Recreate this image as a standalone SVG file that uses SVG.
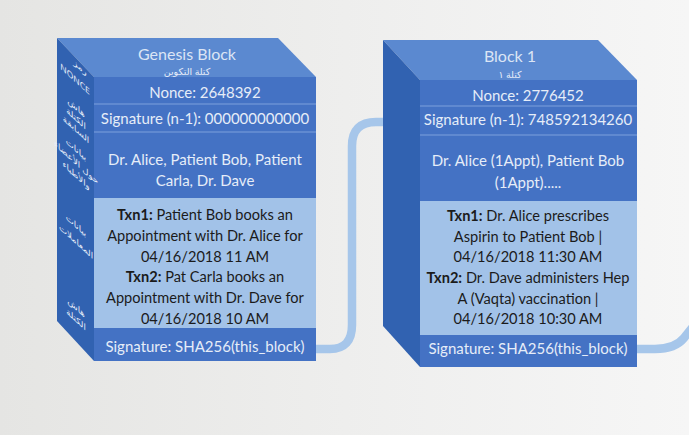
<svg xmlns="http://www.w3.org/2000/svg" width="689" height="435" viewBox="0 0 689 435">
  <defs>
    <linearGradient id="bg" x1="0" y1="0" x2="1" y2="0">
      <stop offset="0" stop-color="#e5e5e3"/>
      <stop offset="0.5" stop-color="#eeeeed"/>
      <stop offset="1" stop-color="#f6f6f6"/>
    </linearGradient>
    <style>
      .top { fill: #5b89d0; }
      .side { fill: #3162b1; }
      .row { fill: #4472c4; }
      .data { fill: #a2c2e8; }
      .sep { stroke: #7d9fdb; stroke-width: 1.2; fill: none; }
      .lt { font-family: Lato, "Open Sans", sans-serif; font-size: 15px; fill: #e6edf8; text-anchor: middle; }
      .dk { font-family: Lato, "Open Sans", sans-serif; font-size: 14.6px; fill: #1b1b1b; text-anchor: middle; }
      .ttl { font-family: Lato, "Open Sans", sans-serif; font-size: 16px; fill: #dbe5f5; text-anchor: middle; }
      .art { font-family: "Noto Sans", "DejaVu Sans", sans-serif; font-size: 9.5px; fill: #e8eefa; text-anchor: middle; }
      .ar { font-family: "Noto Sans", "DejaVu Sans", sans-serif; font-size: 8.5px; fill: #e8eefa; text-anchor: middle; }
      .link { fill: none; stroke: #a6c6ea; stroke-width: 8.5; stroke-linecap: round; }
    </style>
  </defs>

  <rect width="689" height="435" fill="url(#bg)"/>

  <!-- chain links between blocks -->
  <g id="connectors">
    <path class="link" d="M316,349 H330 Q352,349 352,325 V146 Q352,122 376,122 H392"/>
    <path class="link" d="M637,349 H655 Q675,349 684,338 L692,328"/>
  </g>

  <!-- Genesis Block -->
  <g id="genesis-block">
    <polygon class="top" points="57,38 278,38 316,77 94,77"/>
    <polygon class="side" points="57,38 94,77 94,361 57,321"/>
    <rect class="row" x="94" y="77" width="222" height="55"/>
    <rect class="row" x="94" y="132" width="222" height="66"/>
    <rect class="data" x="94" y="198" width="222" height="130"/>
    <rect class="row" x="94" y="328" width="222" height="33"/>
    <line class="sep" x1="94" y1="104" x2="316" y2="104"/>
    <line class="sep" x1="94" y1="132" x2="316" y2="132"/>

    <text class="ttl" x="187" y="60">Genesis Block</text>
    <text class="art" x="187" y="75">كتلة التكوين</text>

    <text class="lt" x="205" y="98">Nonce: 2648392</text>
    <text class="lt" x="205" y="124">Signature (n-1): 000000000000</text>
    <text class="lt" x="205" y="165">Dr. Alice, Patient Bob, Patient</text>
    <text class="lt" x="205" y="186">Carla, Dr. Dave</text>

    <text class="dk" x="205" y="220"><tspan font-weight="bold">Txn1:</tspan> Patient Bob books an</text>
    <text class="dk" x="205" y="241">Appointment with Dr. Alice for</text>
    <text class="dk" x="205" y="262">04/16/2018 11 AM</text>
    <text class="dk" x="205" y="282"><tspan font-weight="bold">Txn2:</tspan> Pat Carla books an</text>
    <text class="dk" x="205" y="303">Appointment with Dr. Dave for</text>
    <text class="dk" x="205" y="324">04/16/2018 10 AM</text>
    <text class="lt" x="205" y="352">Signature: SHA256(this_block)</text>

    <!-- labels along the side face -->
    <text class="ar" transform="translate(80,70) skewY(42)">رمز</text>
    <text class="ar" transform="translate(75,82) skewY(42)" font-size="8" font-family="Lato, sans-serif">NONCE</text>
    <text class="ar" transform="translate(76,110) skewY(42)">هاش</text>
    <text class="ar" transform="translate(76,121) skewY(42)">الكتلة</text>
    <text class="ar" transform="translate(76,132) skewY(42)">السابقة</text>
    <text class="ar" transform="translate(76,152) skewY(42)">بيانات</text>
    <text class="ar" transform="translate(76,165) skewY(42)" font-size="7">حول الأعضاء</text>
    <text class="ar" transform="translate(76,178) skewY(42)">والأطباء</text>
    <text class="ar" transform="translate(76,228) skewY(42)">بيانات</text>
    <text class="ar" transform="translate(76,244) skewY(42)">المعاملات</text>
    <text class="ar" transform="translate(76,310) skewY(42)">هاش</text>
    <text class="ar" transform="translate(76,322) skewY(42)">الكتلة</text>
  </g>

  <!-- Block 1 -->
  <g id="block-1">
    <polygon class="top" points="383,40 598,40 637,80 420,80"/>
    <polygon class="side" points="383,40 420,80 420,367 383,326"/>
    <rect class="row" x="420" y="80" width="217" height="55"/>
    <rect class="row" x="420" y="135" width="217" height="66"/>
    <rect class="data" x="420" y="201" width="217" height="134"/>
    <rect class="row" x="420" y="335" width="217" height="32"/>
    <line class="sep" x1="420" y1="106" x2="637" y2="106"/>
    <line class="sep" x1="420" y1="135" x2="637" y2="135"/>

    <text class="ttl" x="510" y="62">Block 1</text>
    <text class="art" x="510" y="78">كتلة ١</text>

    <text class="lt" x="528" y="101">Nonce: 2776452</text>
    <text class="lt" x="528" y="125">Signature (n-1): 748592134260</text>
    <text class="lt" x="528" y="166">Dr. Alice (1Appt), Patient Bob</text>
    <text class="lt" x="528" y="188">(1Appt).....</text>

    <text class="dk" x="528" y="221"><tspan font-weight="bold">Txn1:</tspan> Dr. Alice prescribes</text>
    <text class="dk" x="528" y="242">Aspirin to Patient Bob |</text>
    <text class="dk" x="528" y="262">04/16/2018 11:30 AM</text>
    <text class="dk" x="528" y="283"><tspan font-weight="bold">Txn2:</tspan> Dr. Dave administers Hep</text>
    <text class="dk" x="528" y="304">A (Vaqta) vaccination |</text>
    <text class="dk" x="528" y="324">04/16/2018 10:30 AM</text>
    <text class="lt" x="528" y="354">Signature: SHA256(this_block)</text>
  </g>
</svg>
